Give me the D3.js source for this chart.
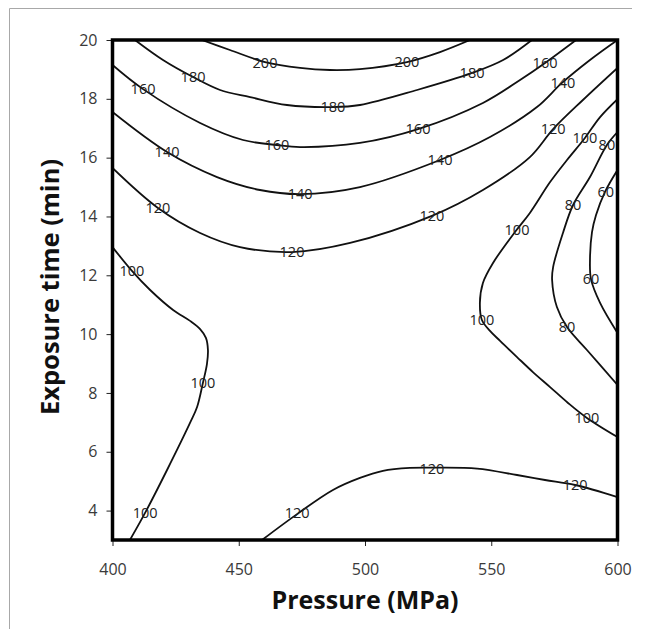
<!DOCTYPE html>
<html lang="en">

<head>
  <meta charset="UTF-8" />
  <title>contour</title>
  <script src="https://cdn.jsdelivr.net/npm/d3@7"></script>
  <style>
    html, body { margin: 0; padding: 0; background: #fff; overflow: hidden; }
    svg { display: block; }
    text { font-family: "Open Sans", "Noto Sans", sans-serif; }
  </style>
</head>

<body>
  <svg id="svg"></svg>
</body>

<script>
  // tick values
  const xTicks = [400, 450, 500, 550, 600];
  const yTicks = [4, 6, 8, 10, 12, 14, 16, 18, 20];

  // contour lines, [pressure MPa, exposure time min]
  const c200 = [[435.4, 20], [446.5, 19.66], [460.4, 19.25], [474.3, 19.05], [486.1, 18.98], [498.0, 19.01], [516.6, 19.25], [529.7, 19.59], [541.6, 20]];
  const c180 = [[408.9, 20], [420.0, 19.32], [431.9, 18.74], [442.6, 18.30], [454.5, 18.06], [469.1, 17.79], [487.3, 17.72], [498.0, 17.79], [520.6, 18.30], [542.4, 18.88], [554.7, 19.32], [566.1, 20]];
  const c160 = [[400, 19.15], [412.1, 18.33], [434.7, 17.18], [451.7, 16.60], [465.1, 16.43], [474.3, 16.36], [498.0, 16.50], [521.0, 16.97], [546.7, 17.86], [561.4, 18.64], [571.3, 19.22], [583.6, 20]];
  const c140 = [[400, 17.55], [421.6, 16.19], [441.4, 15.34], [458.4, 14.90], [474.3, 14.76], [498.0, 15.00], [529.7, 15.92], [549.5, 16.70], [568.1, 17.72], [578.0, 18.54], [589.1, 19.32], [600, 20]];
  const c120top = [[400, 15.65], [418.0, 14.29], [434.7, 13.44], [450.5, 12.96], [471.1, 12.79], [494.1, 13.10], [526.5, 14.02], [546.7, 14.90], [565.3, 16.02], [574.5, 16.97], [586.3, 17.96], [600, 19.05]];
  const c100left = [[400, 12.96], [407.7, 12.15], [414.9, 11.50], [424.0, 10.82], [430.7, 10.45], [434.7, 10.17], [437.0, 9.87], [437.8, 9.46], [437.4, 8.98], [435.8, 8.34], [433.5, 7.52], [430.7, 6.98], [421.6, 5.38], [412.9, 3.92], [406.9, 3]];
  const c100right = [[600, 17.99], [593.1, 17.38], [587.1, 16.67], [580.0, 15.92], [573.3, 15.17], [565.3, 14.12], [559.4, 13.47], [550.7, 12.42], [546.7, 11.74], [545.5, 11.06], [546.3, 10.48], [549.5, 10.11], [553.5, 9.77], [560.2, 9.22], [566.5, 8.71], [573.3, 8.20], [580.4, 7.66], [587.9, 7.15], [600, 6.50]];
  const c80 = [[600, 16.87], [595.8, 16.43], [589.1, 15.34], [582.4, 14.39], [578.4, 13.44], [574.5, 12.28], [574.1, 11.84], [576.0, 10.92], [580.0, 10.24], [587.9, 9.46], [600, 8.27]];
  const c60 = [[600, 15.58], [595.0, 14.83], [591.5, 14.05], [589.9, 13.47], [589.1, 12.52], [589.5, 11.87], [593.1, 11.06], [600, 10.04]];
  const c120bottom = [[459.2, 3], [473.1, 3.88], [487.3, 4.70], [498.0, 5.11], [507.1, 5.35], [517.8, 5.45], [526.5, 5.46], [544.4, 5.43], [560.2, 5.21], [571.3, 5.04], [583.2, 4.87], [600, 4.46]];

  // contour labels
  const labelText = ["200", "200", "180", "180", "180", "160", "160", "160", "160",
    "140", "140", "140", "140", "120", "120", "120", "120", "100", "100", "100",
    "100", "100", "100", "100", "80", "80", "80", "60", "60", "120", "120", "120"];
  const labelPressure = [460.4, 516.6, 431.9, 487.3, 542.4, 412.1, 465.1, 521.0, 571.3,
    421.6, 474.3, 529.7, 578.4, 418.0, 471.1, 526.5, 574.5, 407.7, 435.8, 412.9,
    587.1, 560.2, 546.3, 587.9, 595.8, 582.4, 580.0, 595.4, 589.5, 473.1, 526.5, 583.2];
  const labelTime = [19.22, 19.25, 18.74, 17.72, 18.88, 18.33, 16.43, 16.97, 19.22,
    16.19, 14.76, 15.92, 18.54, 14.29, 12.79, 14.02, 16.97, 12.15, 8.34, 3.92,
    16.67, 13.54, 10.48, 7.15, 16.43, 14.39, 10.24, 14.83, 11.87, 3.92, 5.41, 4.87];

  const width = 646;
  const height = 629;
  const margin = { top: 40, right: 28.5, bottom: 89, left: 112.5 };
  const innerWidth = width - margin.left - margin.right;
  const innerHeight = height - margin.top - margin.bottom;

  const svg = d3.select("#svg").attr("width", width).attr("height", height);

  // light outer frame
  svg.append("path")
    .attr("d", "M9.5,629 V8.5 H632")
    .attr("fill", "none")
    .attr("stroke", "#a8a8a8")
    .attr("stroke-width", 1);

  const xScale = d3.scaleLinear().domain([400, 600]).range([0, innerWidth]);
  const yScale = d3.scaleLinear().domain([3, 20]).range([innerHeight, 0]);

  const g = svg.append("g").attr("transform", `translate(${margin.left}, ${margin.top})`);

  g.append("clipPath").attr("id", "clip")
    .append("rect").attr("width", innerWidth).attr("height", innerHeight);

  const xAxis = d3.axisBottom(xScale).tickValues(xTicks).tickSize(6).tickPadding(18).tickFormat(d3.format("d"));
  const yAxis = d3.axisLeft(yScale).tickValues(yTicks).tickSize(6).tickPadding(9).tickFormat(d3.format("d"));

  const xAxisGroup = g.append("g").attr("transform", `translate(0, ${innerHeight})`).call(xAxis);
  const yAxisGroup = g.append("g").call(yAxis);
  [xAxisGroup, yAxisGroup].forEach(a => {
    a.select(".domain").remove();
    a.selectAll(".tick line").attr("stroke", "#222");
    a.selectAll(".tick text")
      .attr("font-size", 16)
      .attr("font-family", "'Open Sans', sans-serif")
      .attr("fill", "#3a3a3a");
  });

  const line = d3.line()
    .x(d => xScale(d[0]))
    .y(d => yScale(d[1]))
    .curve(d3.curveCatmullRom.alpha(0.5));

  const contours = [c200, c180, c160, c140, c120top, c100left, c100right, c80, c60, c120bottom];

  g.append("g").attr("clip-path", "url(#clip)")
    .selectAll("path")
    .data(contours)
    .join("path")
    .attr("d", line)
    .attr("fill", "none")
    .attr("stroke", "#111")
    .attr("stroke-width", 1.8);

  g.append("g")
    .selectAll("text")
    .data(labelText)
    .join("text")
    .attr("x", (d, i) => xScale(labelPressure[i]))
    .attr("y", (d, i) => yScale(labelTime[i]))
    .attr("dy", "0.36em")
    .attr("text-anchor", "middle")
    .attr("font-size", 14.5)
    .attr("fill", "#222")
    .text(d => d);

  // plot frame
  g.append("rect")
    .attr("width", innerWidth)
    .attr("height", innerHeight)
    .attr("fill", "none")
    .attr("stroke", "#000")
    .attr("stroke-width", 3.5);

  g.append("text")
    .attr("x", innerWidth / 2)
    .attr("y", innerHeight + 69)
    .attr("text-anchor", "middle")
    .attr("font-size", 25)
    .attr("font-weight", "bold")
    .attr("fill", "#111")
    .text("Pressure (MPa)");

  g.append("text")
    .attr("transform", "rotate(-90)")
    .attr("x", -innerHeight / 2 + 3)
    .attr("y", -54)
    .attr("text-anchor", "middle")
    .attr("font-size", 25.5)
    .attr("font-weight", "bold")
    .attr("fill", "#111")
    .text("Exposure time (min)");
</script>

</html>
